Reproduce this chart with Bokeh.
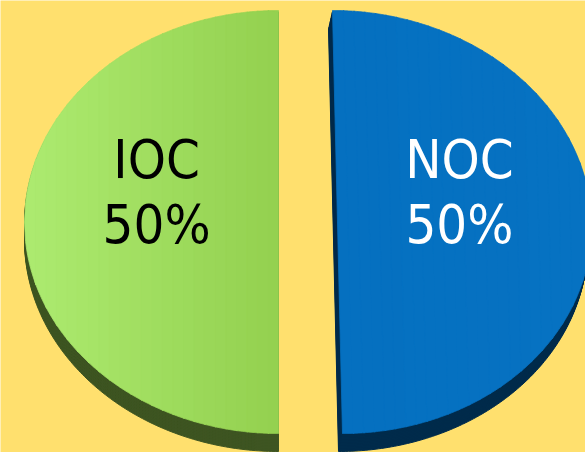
import numpy as np
from bokeh.plotting import figure
from bokeh.models import Range1d
from bokeh.core.properties import value
from bokeh.embed import file_html
from bokeh.resources import INLINE

# ---- data ----
labels = ["IOC", "NOC"]
shares = [50, 50]
pct_labels = ["50%", "50%"]
light_colors = ["#ADEB70", "#0672C2"]
dark_colors = ["#93D04F", "#0570C0"]
side_colors = ["#3E5522", "#002B4B"]
text_colors = ["#000000", "#FFFFFF"]

W, H = 585, 452
BG = "#FFE06E"
FONT = "'DejaVu Sans Condensed', 'Liberation Sans', sans-serif"


def mix(c1, c2, f):
    a = [int(c1[j:j + 2], 16) for j in (1, 3, 5)]
    b = [int(c2[j:j + 2], 16) for j in (1, 3, 5)]
    return "#%02x%02x%02x" % tuple(int(round(a[k] + (b[k] - a[k]) * f)) for k in range(3))


p = figure(width=W, height=H, output_backend="svg", toolbar_location=None,
           x_range=Range1d(0, W), y_range=Range1d(H, 0), min_border=0)
p.axis.visible = False
p.grid.visible = False
p.outline_line_color = None
p.background_fill_color = BG
p.border_fill_color = BG

cx, cy = 305.0, 221.5
rx, ry = 254.0, 211.5
explode = 27.0
depth = 18.0
shears = [0.0, 10.0 / 423.0]
side_dx = [0.0, -4.0]

total = float(sum(shares))
start = np.pi / 2
for i, (lab, s) in enumerate(zip(labels, shares)):
    a0 = start
    a1 = start + 2 * np.pi * s / total
    start = a1
    mid = (a0 + a1) / 2
    ox = cx + explode * np.cos(mid)
    oy = cy - explode * np.sin(mid) * (ry / rx)
    top_y = cy - ry
    t = np.linspace(a0, a1, 240)
    xs = np.concatenate([[ox], ox + rx * np.cos(t), [ox]])
    ys = np.concatenate([[oy], oy - ry * np.sin(t), [oy]])
    xs = xs + shears[i] * (ys - top_y)
    # side (depth)
    n = 12
    for k in range(n, 0, -1):
        f = k / n
        p.patch(xs + side_dx[i] * f, ys + depth * f, fill_color=side_colors[i],
                line_color=side_colors[i], line_width=1)
    # top face with a horizontal shading built from vertical strips
    x_lo, x_hi = (ox - rx, ox) if np.cos(mid) < 0 else (ox, ox + rx)
    nstrip = 24
    edges = np.linspace(x_lo, x_hi, nstrip + 1)
    for k in range(nstrip):
        xa, xb = edges[k], min(edges[k + 1] + 1.0, x_hi)
        sx = np.linspace(xa, xb, 12)
        h = ry * np.sqrt(np.clip(1 - ((sx - ox) / rx) ** 2, 0, 1))
        px = np.concatenate([sx, sx[::-1]])
        py = np.concatenate([oy - h, (oy + h)[::-1]])
        px = px + shears[i] * (py - top_y)
        f = (k + 0.5) / nstrip
        if np.cos(mid) > 0:
            f = 1 - f
        col = mix(light_colors[i], dark_colors[i], f)
        p.patch(px, py, fill_color=col, line_color=col, line_width=0.8)
    lx = ox + 0.48 * rx * np.cos(mid) + shears[i] * ry
    for txt, by in ((lab, cy - 62.5), (pct_labels[i], cy + 2.5)):
        p.text(x=[lx], y=[by], text=[txt], text_align="center",
               text_baseline="alphabetic", text_color=text_colors[i],
               text_font=value(FONT), text_font_size="54px")

open("out.html", "w").write(file_html(p, INLINE))
